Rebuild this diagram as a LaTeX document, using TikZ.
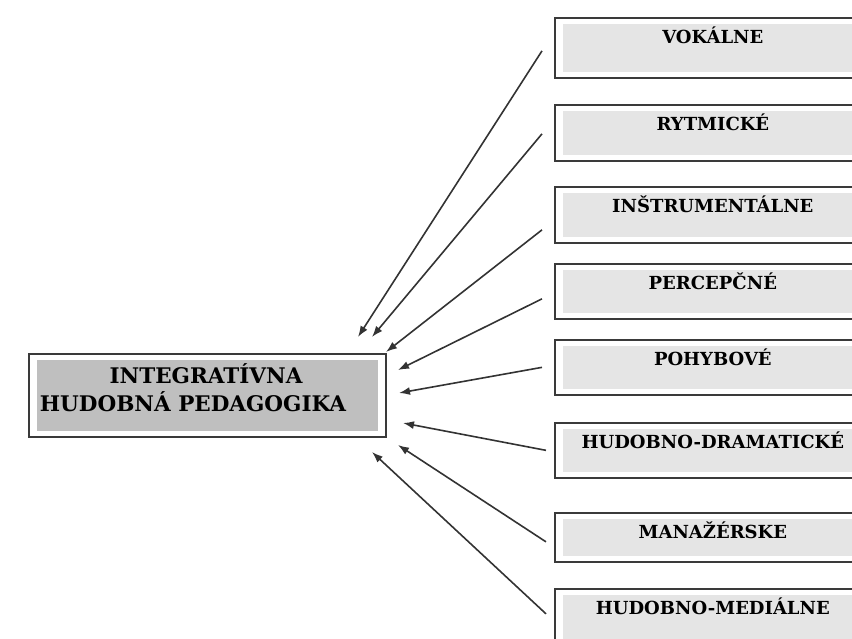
\documentclass[tikz,border=0pt]{standalone}
\usepackage{fontspec}
\setmainfont{DejaVu Serif}
\usetikzlibrary{arrows.meta,positioning}
\definecolor{boxline}{HTML}{3A3A3A}
\definecolor{arrowline}{HTML}{333333}
\colorlet{lightfill}{gray!20}
\colorlet{darkfill}{gray!50}
\tikzset{
  outerbox/.style = {
    draw=boxline, line width=1.7pt, fill=white, inner sep=0pt,
    anchor=north west, minimum width=316pt,
    path picture={\fill[#1] ([shift={(8pt,-6pt)}]path picture bounding box.north west)
      rectangle ([shift={(-8pt,6pt)}]path picture bounding box.south east);}
  },
  outerbox/.default=lightfill,
  boxtext/.style = {anchor=base, inner sep=0pt,
    font=\fontsize{18}{20}\selectfont\bfseries},
  centtext/.style = {anchor=base, inner sep=0pt,
    font=\fontsize{21.5}{28}\selectfont\bfseries},
  feed/.style = {draw=arrowline, line width=1.6pt, -{Latex[length=11pt,width=8pt]}}
}

\begin{document}
\begin{tikzpicture}[x=1pt,y=-1pt]
  \useasboundingbox (0,0) rectangle (852,639);
  \clip (0,0) rectangle (852,639);
  % central box
  \node[outerbox=darkfill, minimum width=357pt, minimum height=83pt] (ihp) at (28,353) {};
  \node[centtext] (ihp1) at (206,383) {INTEGRATÍVNA};
  \node[centtext] (ihp2) at (193,411) {HUDOBNÁ PEDAGOGIKA};
  % activity boxes
  \node[outerbox, minimum height=60pt] (vok) at (554,17) {};
  \node[boxtext] at ([yshift=-26.5pt]vok.north) {VOKÁLNE};
  \node[outerbox, minimum height=56pt] (ryt) at (554,104) {};
  \node[boxtext] at ([yshift=-26.5pt]ryt.north) {RYTMICKÉ};
  \node[outerbox, minimum height=56pt] (ins) at (554,186) {};
  \node[boxtext] at ([yshift=-26.5pt]ins.north) {INŠTRUMENTÁLNE};
  \node[outerbox, minimum height=55pt] (per) at (554,263) {};
  \node[boxtext] at ([yshift=-26.5pt]per.north) {PERCEPČNÉ};
  \node[outerbox, minimum height=55pt] (poh) at (554,339) {};
  \node[boxtext] at ([yshift=-26.5pt]poh.north) {POHYBOVÉ};
  \node[outerbox, minimum height=55pt] (dra) at (554,422) {};
  \node[boxtext] at ([yshift=-26.5pt]dra.north) {HUDOBNO-DRAMATICKÉ};
  \node[outerbox, minimum height=49pt] (man) at (554,512) {};
  \node[boxtext] at ([yshift=-26.5pt]man.north) {MANAŽÉRSKE};
  \node[outerbox, minimum height=56pt] (med) at (554,588) {};
  \node[boxtext] at ([yshift=-26.5pt]med.north) {HUDOBNO-MEDIÁLNE};
  % arrow tips in front of the central box
  \coordinate (t1) at (358,337);
  \coordinate (t2) at (372,337);
  \coordinate (t3) at (386,352);
  \coordinate (t4) at (398,370);
  \coordinate (t5) at (399,393);
  \coordinate (t6) at (403,423);
  \coordinate (t7) at (398,445);
  \coordinate (t8) at (372,452);
  % arrows
  \draw[feed] ([shift={(-12pt,-3pt)}]vok.west) -- (t1);
  \draw[feed] ([shift={(-12pt,-1pt)}]ryt.west) -- (t2);
  \draw[feed] ([shift={(-12pt,-15pt)}]ins.west) -- (t3);
  \draw[feed] ([shift={(-12pt,-7.5pt)}]per.west) -- (t4);
  \draw[feed] ([shift={(-12pt,0pt)}]poh.west) -- (t5);
  \draw[feed] ([shift={(-8pt,0pt)}]dra.west) -- (t6);
  \draw[feed] ([shift={(-8pt,-4.5pt)}]man.west) -- (t7);
  \draw[feed] ([shift={(-8pt,3pt)}]med.west) -- (t8);
\end{tikzpicture}
\end{document}
